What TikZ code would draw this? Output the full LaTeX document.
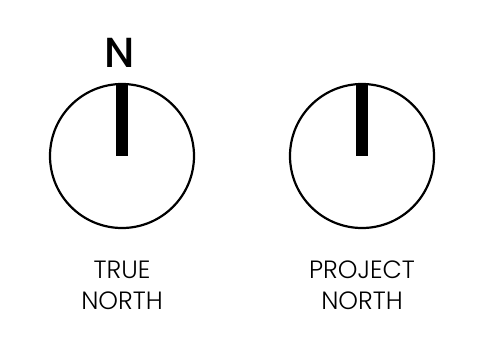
\documentclass[tikz,border=0pt]{standalone}
\usepackage{fontspec}
\setmainfont{Poppins Light}
\newfontfamily\nfont{Poppins Medium}
\usetikzlibrary{positioning}

\begin{document}
\begin{tikzpicture}[x=1pt,y=-1pt,
    dial/.style={circle,draw,line width=2.2pt,minimum size=144pt,inner sep=0pt},
    needle/.style={line width=12pt},
    caption/.style={align=center,font=\fontsize{25}{31}\selectfont,inner sep=0pt}]
        \useasboundingbox (0,0) rectangle (483,346);

        % Nord vrai
        \node[dial] (true) at (122,156) {};
        \draw[needle] (true.north) -- (true.center);
        \node[font=\nfont\fontsize{42}{42}\selectfont,inner sep=0pt] (nlabel) at (120,53) {N};
        \node[caption] (truetext) at (122,285) {TRUE\\NORTH};

        % Nord du projet
        \node[dial] (project) at (362,156) {};
        \draw[needle] (project.north) -- (project.center);
        \node[caption] (projecttext) at (362,285) {PROJECT\\NORTH};

    \end{tikzpicture}
\end{document}
